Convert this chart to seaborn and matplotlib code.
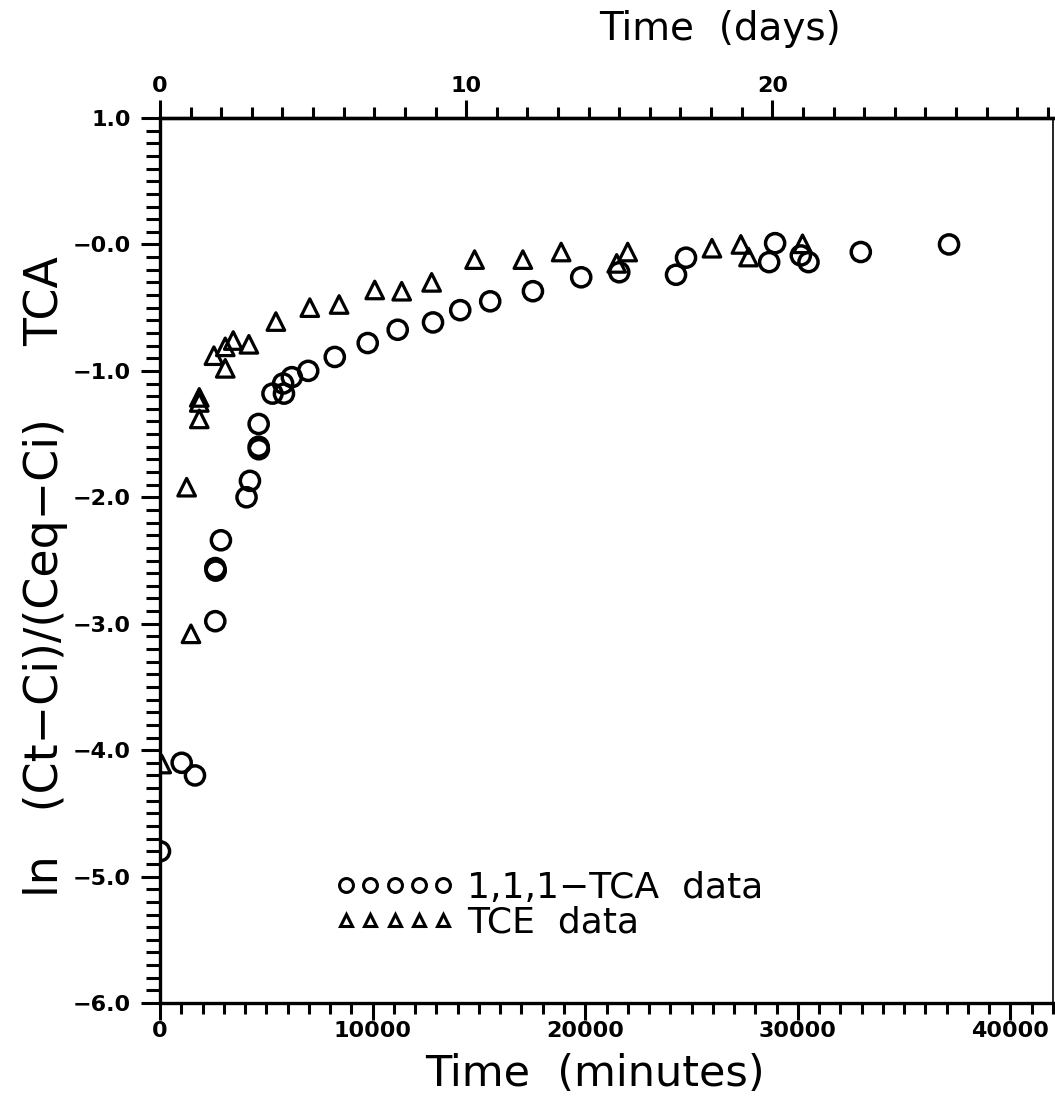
import numpy as np
import pandas as pd
import matplotlib
matplotlib.use("Agg")
import matplotlib.pyplot as plt
from matplotlib.lines import Line2D
import seaborn as sns

# ---------------- data ----------------
tca_minutes = [0, 1020, 1645, 2600, 2600, 2620, 2865, 4070, 4230, 4640, 4650, 4640,
               5290, 5790, 5830, 6200, 6970, 8220, 9770, 11180, 12840, 14120, 15530,
               17540, 19810, 21600, 24270, 24740, 28650, 28930, 30140, 30500, 32960, 37110]
tca_lnratio = [-4.80, -4.10, -4.20, -2.98, -2.56, -2.58, -2.34, -2.00, -1.87, -1.60, -1.62, -1.42,
               -1.18, -1.10, -1.18, -1.05, -1.00, -0.89, -0.78, -0.675, -0.617, -0.52, -0.45,
               -0.37, -0.26, -0.22, -0.24, -0.105, -0.14, 0.01, -0.087, -0.14, -0.06, 0.00]

tce_minutes = [80, 1253, 1456, 1847, 1847, 1847, 2536, 3069, 3069, 3444, 4180, 5450, 7045,
               8424, 10100, 11367, 12776, 14796, 17066, 18867, 21480, 21998, 25960, 27320,
               27680, 30220]
tce_lnratio = [-4.11, -1.92, -3.08, -1.21, -1.25, -1.38, -0.88, -0.81, -0.98, -0.76, -0.79,
               -0.61, -0.50, -0.475, -0.36, -0.37, -0.30, -0.12, -0.12, -0.06, -0.15, -0.06,
               -0.03, 0.00, -0.10, 0.005]

series_names = ["1,1,1\u2212TCA  data", "TCE  data"]
y_ticks = [1.0, 0.0, -1.0, -2.0, -3.0, -4.0, -5.0, -6.0]
y_tick_labels = ["1.0", "\u22120.0", "\u22121.0", "\u22122.0", "\u22123.0", "\u22124.0", "\u22125.0", "\u22126.0"]
x_ticks = [0, 10000, 20000, 30000, 40000]
x_tick_labels = ["0", "10000", "20000", "30000", "40000"]
day_ticks = [0, 10, 20]
MIN_PER_DAY = 1440

df = pd.concat([
    pd.DataFrame({"minutes": tca_minutes, "lnratio": tca_lnratio, "series": series_names[0]}),
    pd.DataFrame({"minutes": tce_minutes, "lnratio": tce_lnratio, "series": series_names[1]}),
], ignore_index=True)

# ---------------- style ----------------
sns.set_style("ticks")
plt.rcParams["font.family"] = ["DejaVu Sans"]
for k in ["text.color", "axes.labelcolor", "xtick.color", "ytick.color", "axes.edgecolor"]:
    plt.rcParams[k] = "black"

fig = plt.figure(figsize=(10.55, 11.01), dpi=100)
ax = fig.add_axes([160/1055, 1 - 1003/1101, 893/1055, 885/1101])

sns.scatterplot(data=df[df.series == series_names[0]], x="minutes", y="lnratio",
                marker="o", s=190, facecolor="none", edgecolor="black", linewidth=2.5,
                ax=ax, legend=False, zorder=3)
sns.scatterplot(data=df[df.series == series_names[1]], x="minutes", y="lnratio",
                marker="^", s=160, facecolor="none", edgecolor="black", linewidth=2.3,
                ax=ax, legend=False, zorder=3)

ax.set_xlim(0, 42000)
ax.set_ylim(-6, 1)

ax.set_yticks(y_ticks)
ax.set_yticklabels(y_tick_labels, fontsize=16, fontweight="bold")
ax.set_yticks(np.arange(-6, 1.001, 0.1), minor=True)
ax.set_xticks(x_ticks)
ax.set_xticklabels(x_tick_labels, fontsize=16, fontweight="bold")
ax.set_xticks(np.arange(0, 42001, 1000), minor=True)

ax.tick_params(axis="y", which="major", direction="out", length=14, width=2.2, pad=7)
ax.tick_params(axis="y", which="minor", direction="out", length=10, width=2.2)
ax.tick_params(axis="x", which="major", direction="out", length=12, width=2.2, pad=1)
ax.tick_params(axis="x", which="minor", direction="out", length=8, width=2.2)

for side in ["left", "bottom", "top"]:
    ax.spines[side].set_linewidth(2.4)
ax.spines["right"].set_linewidth(1.2)

ax.set_xlabel("Time  (minutes)", fontsize=31)
ax.xaxis.set_label_coords(0.487, -0.056)
ax.set_ylabel("ln   (Ct\u2212Ci)/(Ceq\u2212Ci)     TCA", fontsize=33)
ax.yaxis.set_label_coords(-0.103, 0.482)

secax = ax.secondary_xaxis("top", functions=(lambda m: m / MIN_PER_DAY, lambda d: d * MIN_PER_DAY))
secax.set_xticks(day_ticks)
secax.set_xticklabels([str(d) for d in day_ticks], fontsize=16, fontweight="bold")
secax.set_xticks(np.arange(0, 30, 1), minor=True)
secax.tick_params(which="major", direction="out", length=13, width=2.2, pad=3)
secax.tick_params(which="minor", direction="out", length=8, width=2.2)
secax.spines["top"].set_linewidth(2.4)

ax.text(0.627, 1.10, "Time  (days)", transform=ax.transAxes, fontsize=28,
        ha="center", va="center")

handles = [
    Line2D([], [], marker="o", linestyle="none", markersize=10, markerfacecolor="none",
           markeredgecolor="black", markeredgewidth=2.2),
    Line2D([], [], marker="^", linestyle="none", markersize=9, markerfacecolor="none",
           markeredgecolor="black", markeredgewidth=2.2),
]
leg = ax.legend(handles, series_names, numpoints=5, handlelength=3.3, handletextpad=0.35,
                labelspacing=0.02, frameon=False, fontsize=26, borderpad=0, borderaxespad=0,
                loc="lower left", bbox_to_anchor=(0.196, 0.072))

fig.savefig("out.png", dpi=100)
